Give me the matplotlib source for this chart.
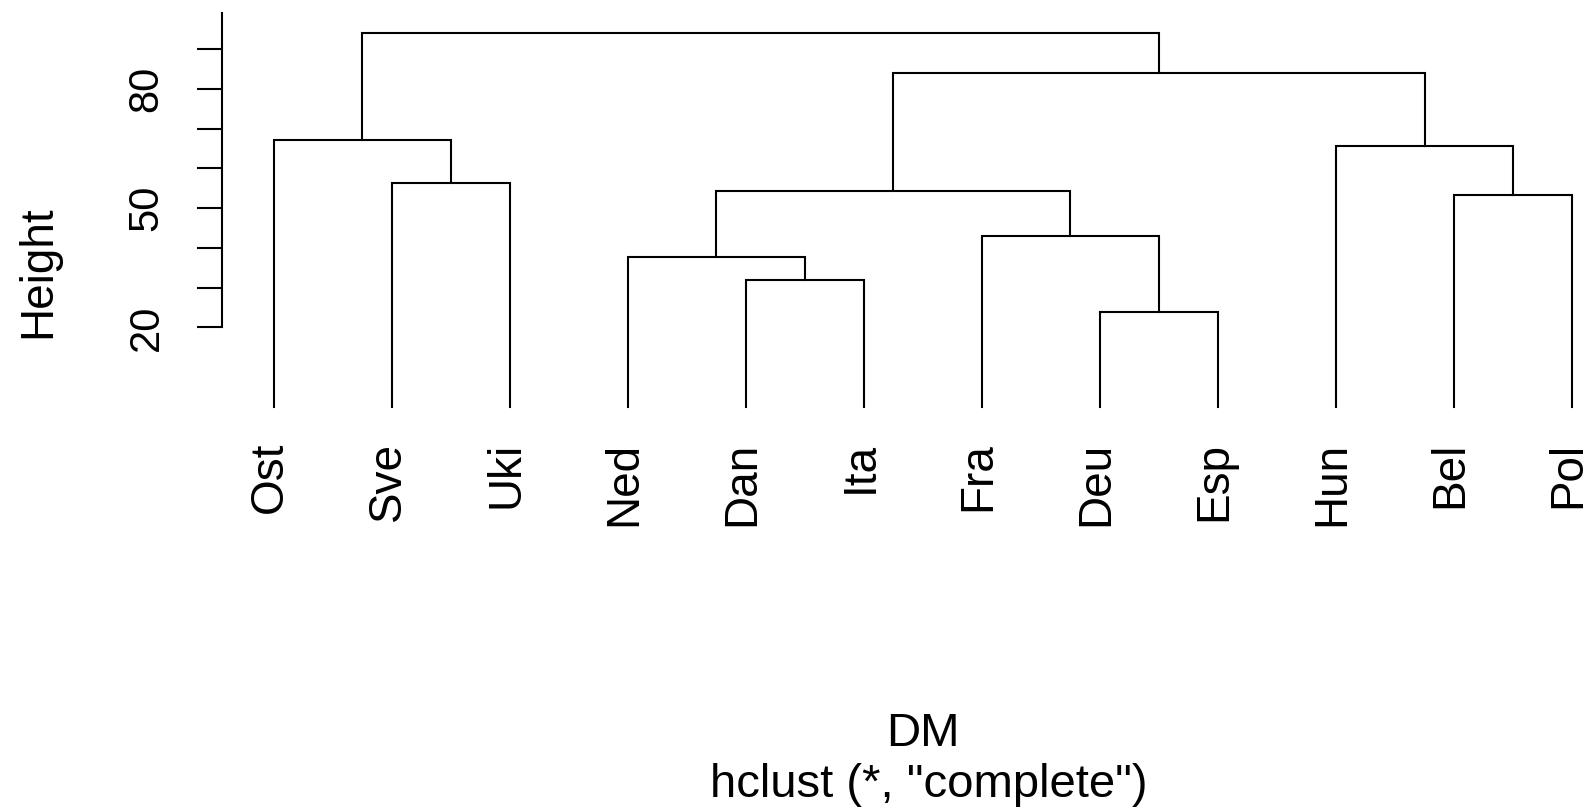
#!/usr/bin/env python3
"""Redraw the hclust complete-linkage dendrogram of DM."""

import matplotlib as mpl

mpl.use("Agg")

import matplotlib.pyplot as plt
from matplotlib.transforms import offset_copy

# leaves in dendrogram order
LEAVES = ["Ost", "Sve", "Uki", "Ned", "Dan", "Ita", "Fra", "Deu", "Esp", "Hun", "Bel", "Pol"]

# R-style merge table: negative = leaf number (1-based, LEAVES order),
# positive = earlier merge step (1-based)
MERGE_LEFT = [-8, -5, -4, -7, -11, 3, -2, -10, -1, 6, 9]
MERGE_RIGHT = [-9, -6, 2, 1, -12, 4, -3, 5, 7, 8, 10]
MERGE_HEIGHT = [24.0, 31.8, 37.6, 43.1, 53.4, 54.2, 56.3, 65.6, 67.0, 84.0, 94.1]

TICKS = [20, 30, 40, 50, 60, 70, 80, 90]
TICK_LABELS = [20, 50, 80]

FONT = "Liberation Sans"
W, H = 1587, 809


def node_pos(ref, pos):
    if ref < 0:
        return float(-ref - 1), 0.0
    return pos[ref - 1]


def main():
    plt.rcParams["font.family"] = [FONT, "DejaVu Sans"]
    fig = plt.figure(figsize=(W / 100, H / 100), dpi=100)

    # axes placed in pixels: left edge 222, right = figure edge, top 0, bottom 422
    ax = fig.add_axes([222 / W, (H - 422) / H, (W - 222) / W, 422 / H])

    pos = []
    for left, right, hgt in zip(MERGE_LEFT, MERGE_RIGHT, MERGE_HEIGHT):
        xl, yl = node_pos(left, pos)
        xr, yr = node_pos(right, pos)
        ax.plot([xl, xl, xr, xr], [yl, hgt, hgt, yr], color="black", lw=1.5,
                solid_joinstyle="miter", clip_on=False)
        pos.append(((xl + xr) / 2, hgt))

    ax.set_xlim(-0.44, len(LEAVES) - 1 + 0.127)
    ax.set_ylim(-3.77, 102.3)

    for spine in ("top", "right", "bottom"):
        ax.spines[spine].set_visible(False)
    ax.spines["left"].set_bounds(TICKS[0], 99)
    ax.spines["left"].set_linewidth(1.5)

    ax.set_xticks([])
    ax.set_yticks(TICKS)
    ax.set_yticklabels([str(t) if t in TICK_LABELS else "" for t in TICKS],
                       rotation=90, va="center", fontsize=30)
    ax.tick_params(axis="y", length=18, width=1.5, pad=22)

    trans = offset_copy(ax.transData, fig=fig, x=6, y=-25, units="points")
    for i, name in enumerate(LEAVES):
        ax.text(i, 0, name, transform=trans, rotation=90, rotation_mode="anchor",
                ha="right", va="baseline", fontsize=33)

    fig.text(50 / W, (H - 272) / H, "Height", rotation=90, rotation_mode="anchor",
             ha="center", va="baseline", fontsize=33)
    fig.text(923 / W, (H - 746) / H, "DM", ha="center", va="baseline", fontsize=34)
    fig.text(929 / W, (H - 797) / H, 'hclust (*, "complete")', ha="center",
             va="baseline", fontsize=34)

    fig.savefig("out.png", dpi=100)
    plt.close(fig)


if __name__ == "__main__":
    main()
